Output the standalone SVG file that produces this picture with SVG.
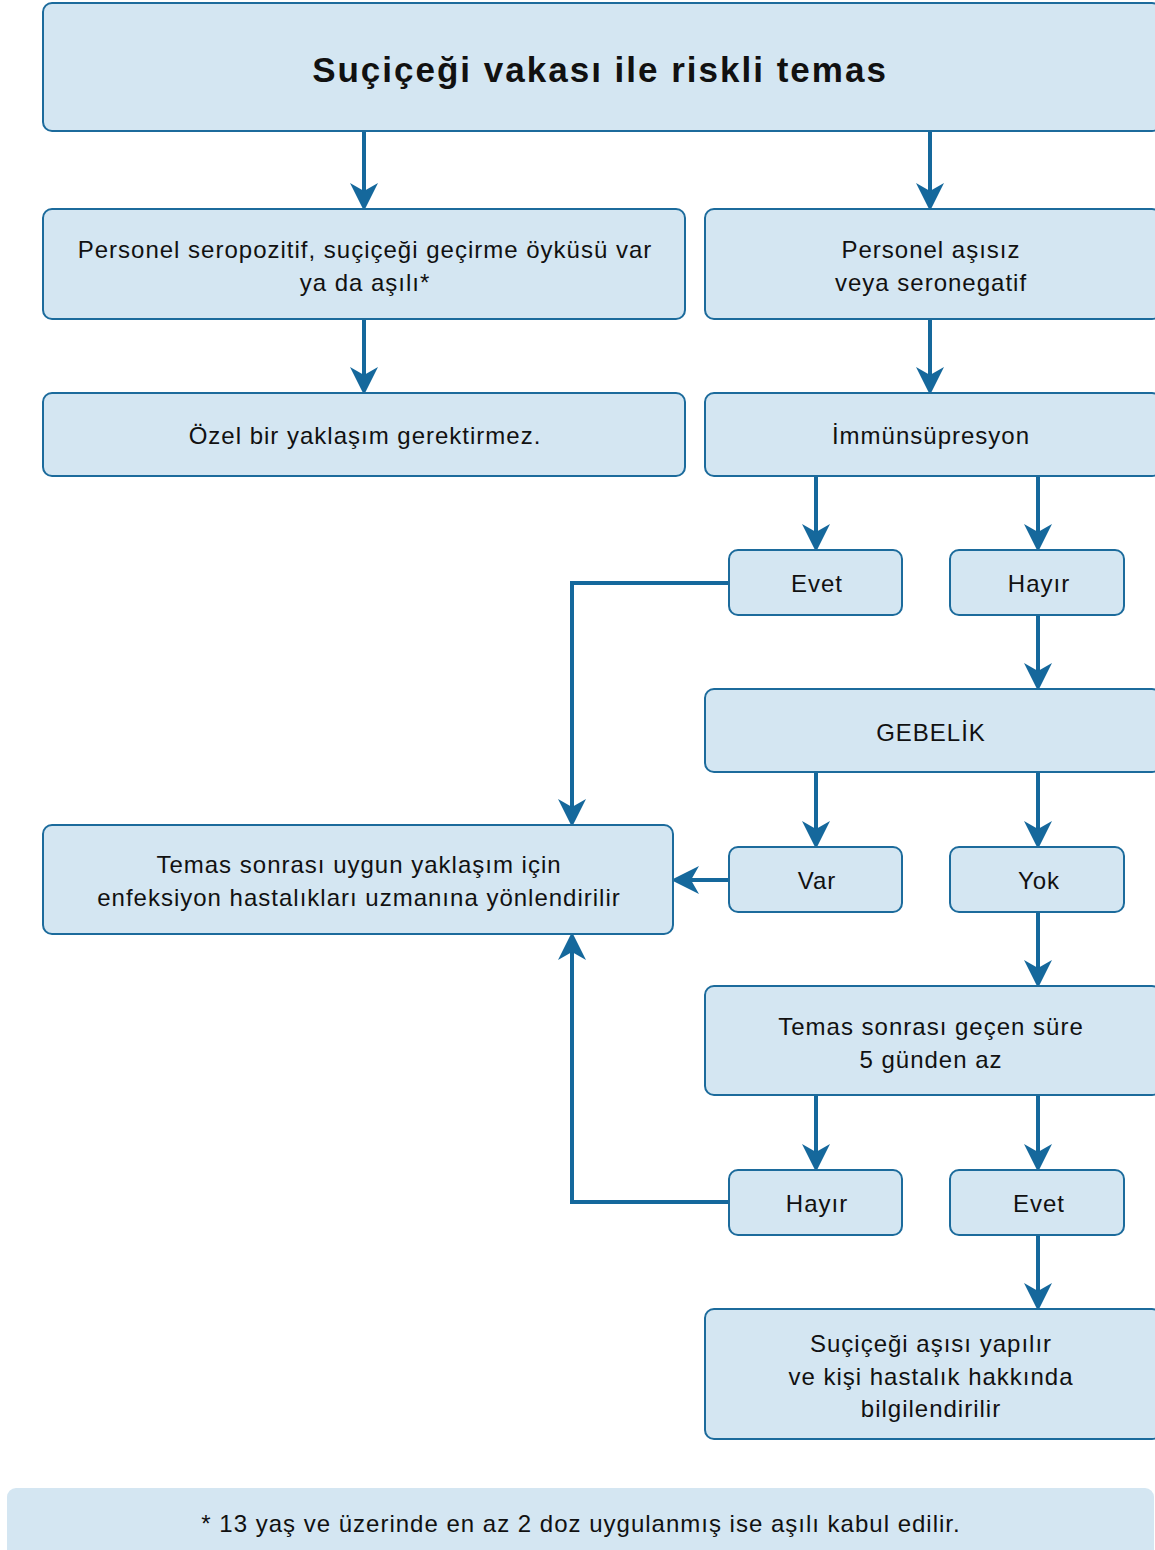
<svg xmlns="http://www.w3.org/2000/svg" width="1155" height="1550" viewBox="0 0 1155 1550">
<style>
.box{fill:#d4e6f2;stroke:#1c6b9c;stroke-width:2}
.t{font-family:"Liberation Sans",Arial,sans-serif;font-size:24px;letter-spacing:1px;fill:#111;text-anchor:middle}
.title{font-family:"Liberation Sans",Arial,sans-serif;font-size:35px;letter-spacing:2px;font-weight:bold;fill:#111;text-anchor:middle}
.c{fill:none;stroke:#15689c;stroke-width:4}
</style>
<defs>
<marker id="ah" markerWidth="7" markerHeight="7" refX="6" refY="3.5" orient="auto" markerUnits="strokeWidth" viewBox="0 0 7 7">
<path d="M0,0 L7,3.5 L0,7 L2,3.5 Z" fill="#15689c"/>
</marker>
</defs>
<rect width="1155" height="1550" fill="#fff"/>
<g id="connectors">
<line class="c" x1="364" y1="131" x2="364" y2="207" marker-end="url(#ah)"/>
<line class="c" x1="930" y1="131" x2="930" y2="207" marker-end="url(#ah)"/>
<line class="c" x1="364" y1="319" x2="364" y2="391" marker-end="url(#ah)"/>
<line class="c" x1="930" y1="319" x2="930" y2="391" marker-end="url(#ah)"/>
<line class="c" x1="816" y1="476" x2="816" y2="548" marker-end="url(#ah)"/>
<line class="c" x1="1038" y1="476" x2="1038" y2="548" marker-end="url(#ah)"/>
<polyline class="c" points="729,583 572,583 572,823" marker-end="url(#ah)"/>
<line class="c" x1="1038" y1="615" x2="1038" y2="687" marker-end="url(#ah)"/>
<line class="c" x1="816" y1="772" x2="816" y2="845" marker-end="url(#ah)"/>
<line class="c" x1="1038" y1="772" x2="1038" y2="845" marker-end="url(#ah)"/>
<line class="c" x1="729" y1="880" x2="675" y2="880" marker-end="url(#ah)"/>
<line class="c" x1="1038" y1="912" x2="1038" y2="984" marker-end="url(#ah)"/>
<line class="c" x1="816" y1="1095" x2="816" y2="1168" marker-end="url(#ah)"/>
<line class="c" x1="1038" y1="1095" x2="1038" y2="1168" marker-end="url(#ah)"/>
<polyline class="c" points="729,1202 572,1202 572,936" marker-end="url(#ah)"/>
<line class="c" x1="1038" y1="1235" x2="1038" y2="1307" marker-end="url(#ah)"/>
</g>
<g id="n-top"><rect class="box" x="43" y="3" width="1118" height="128" rx="9"/><text class="title" x="600" y="82">Suçiçeği vakası ile riskli temas</text></g>
<g id="n-seropoz"><rect class="box" x="43" y="209" width="642" height="110" rx="9"/><text class="t" x="365" y="258">Personel seropozitif, suçiçeği geçirme öyküsü var</text><text class="t" x="365" y="291">ya da aşılı*</text></g>
<g id="n-asisiz"><rect class="box" x="705" y="209" width="456" height="110" rx="9"/><text class="t" x="931" y="258">Personel aşısız</text><text class="t" x="931" y="291">veya seronegatif</text></g>
<g id="n-ozel"><rect class="box" x="43" y="393" width="642" height="83" rx="9"/><text class="t" x="365" y="444">Özel bir yaklaşım gerektirmez.</text></g>
<g id="n-immun"><rect class="box" x="705" y="393" width="456" height="83" rx="9"/><text class="t" x="931" y="444">İmmünsüpresyon</text></g>
<g id="n-evet1"><rect class="box" x="729" y="550" width="173" height="65" rx="9"/><text class="t" x="817" y="592">Evet</text></g>
<g id="n-hayir1"><rect class="box" x="950" y="550" width="174" height="65" rx="9"/><text class="t" x="1039" y="592">Hayır</text></g>
<g id="n-gebelik"><rect class="box" x="705" y="689" width="456" height="83" rx="9"/><text class="t" x="931" y="741">GEBELİK</text></g>
<g id="n-var"><rect class="box" x="729" y="847" width="173" height="65" rx="9"/><text class="t" x="817" y="889">Var</text></g>
<g id="n-yok"><rect class="box" x="950" y="847" width="174" height="65" rx="9"/><text class="t" x="1039" y="889">Yok</text></g>
<g id="n-uzman"><rect class="box" x="43" y="825" width="630" height="109" rx="9"/><text class="t" x="359" y="873">Temas sonrası uygun yaklaşım için</text><text class="t" x="359" y="906">enfeksiyon hastalıkları uzmanına yönlendirilir</text></g>
<g id="n-sure"><rect class="box" x="705" y="986" width="456" height="109" rx="9"/><text class="t" x="931" y="1035">Temas sonrası geçen süre</text><text class="t" x="931" y="1068">5 günden az</text></g>
<g id="n-hayir2"><rect class="box" x="729" y="1170" width="173" height="65" rx="9"/><text class="t" x="817" y="1212">Hayır</text></g>
<g id="n-evet2"><rect class="box" x="950" y="1170" width="174" height="65" rx="9"/><text class="t" x="1039" y="1212">Evet</text></g>
<g id="n-asi"><rect class="box" x="705" y="1309" width="456" height="130" rx="9"/><text class="t" x="931" y="1352">Suçiçeği aşısı yapılır</text><text class="t" x="931" y="1385">ve kişi hastalık hakkında</text><text class="t" x="931" y="1417">bilgilendirilir</text></g>
<g id="n-foot"><rect x="7" y="1488" width="1147" height="80" rx="9" fill="#d4e6f2"/><text class="t" x="581" y="1532">* 13 yaş ve üzerinde en az 2 doz uygulanmış ise aşılı kabul edilir.</text></g>
</svg>
